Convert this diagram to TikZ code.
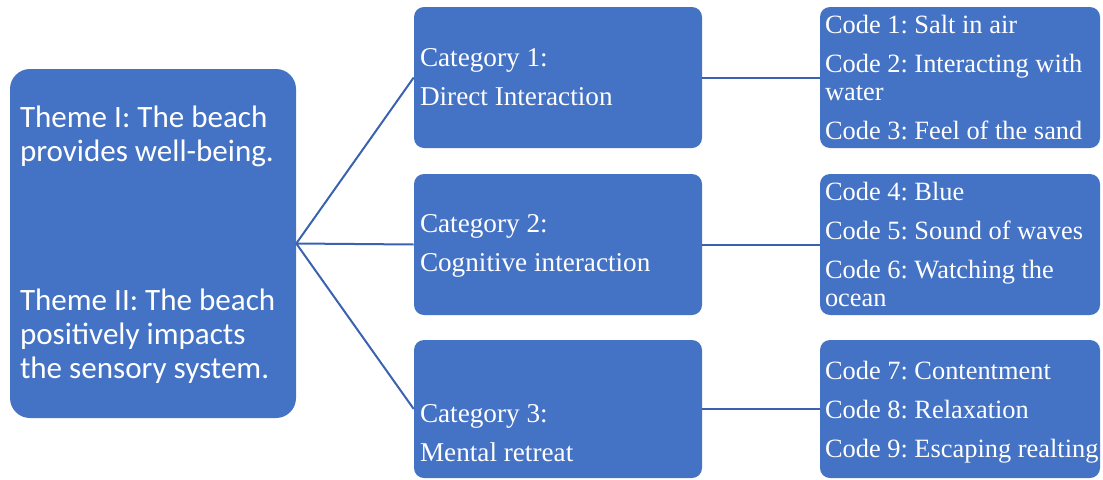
\documentclass[tikz,border=0pt]{standalone}
\usepackage{fontspec}
\usetikzlibrary{calc}
\setmainfont{Liberation Serif}
\newfontfamily\themefont{Carlito}
\definecolor{boxblue}{HTML}{4472C4}
\definecolor{linkblue}{RGB}{58,98,176}
\begin{document}
\frenchspacing
\begin{tikzpicture}[x=0.75pt, y=-0.75pt,
  panel/.style={draw=none, fill=boxblue, anchor=center, inner sep=0pt},
  themebox/.style={panel, rounded corners=15pt, minimum width=286*0.75pt, minimum height=349*0.75pt},
  catbox/.style={panel, rounded corners=7.5pt, minimum width=288*0.75pt, minimum height=141*0.75pt},
  codebox/.style={panel, rounded corners=7.5pt, minimum width=280*0.75pt, minimum height=141*0.75pt},
  boxtext/.style={text=white, align=left, anchor=west, inner sep=0pt},
  themetext/.style={boxtext, font=\themefont\fontsize{23.3}{25.5}\selectfont},
  cattext/.style={boxtext, font=\fontsize{20.4}{21}\selectfont},
  codetext/.style={boxtext, font=\fontsize{19.8}{21}\selectfont},
  link/.style={draw=linkblue, line width=1.5pt}]
\useasboundingbox (0,0) rectangle (1103,479);

% boxes
\node[themebox] (theme) at (153,243.5) {};
\node[catbox] (cat1) at (558,77.5) {};
\node[catbox] (cat2) at (558,244.5) {};
\node[catbox, minimum height=138*0.75pt] (cat3) at (558,409) {};
\node[codebox] (code1) at (960,77.5) {};
\node[codebox] (code2) at (960,244.5) {};
\node[codebox, minimum height=138*0.75pt] (code3) at (960,409) {};

% box texts
\node[themetext] (themeT) at ($(theme.west)+(10,1.5)$)
  {Theme I: The beach\\provides well-being.\\[86pt]Theme II: The beach\\positively impacts\\the sensory system.};
\node[cattext] (cat1T) at ($(cat1.west)+(6,0)$) {Category 1:\\[8.25pt]Direct Interaction};
\node[cattext] (cat2T) at ($(cat2.west)+(6,1)$) {Category 2:\\[8.25pt]Cognitive interaction};
\node[cattext] (cat3T) at ($(cat3.west)+(6,24)$) {Category 3:\\[8.25pt]Mental retreat};
\node[codetext] (code1T) at ($(code1.west)+(5,0)$)
  {Code 1: Salt in air\\[8.25pt]Code 2: Interacting with\\water\\[8.25pt]Code 3: Feel of the sand};
\node[codetext] (code2T) at ($(code2.west)+(5,0)$)
  {Code 4: Blue\\[8.25pt]Code 5: Sound of waves\\[8.25pt]Code 6: Watching the\\ocean};
\node[codetext] (code3T) at ($(code3.west)+(5,3)$)
  {Code 7: Contentment\\[8.25pt]Code 8: Relaxation\\[8.25pt]Code 9: Escaping realting};

% connectors
\draw[link] (theme.east) -- (cat1.west);
\draw[link] (theme.east) -- (cat2.west);
\draw[link] (theme.east) -- (cat3.west);
\draw[link] (cat1.east) -- (code1.west);
\draw[link] (cat2.east) -- (code2.west);
\draw[link] (cat3.east) -- (code3.west);
\end{tikzpicture}
\end{document}
